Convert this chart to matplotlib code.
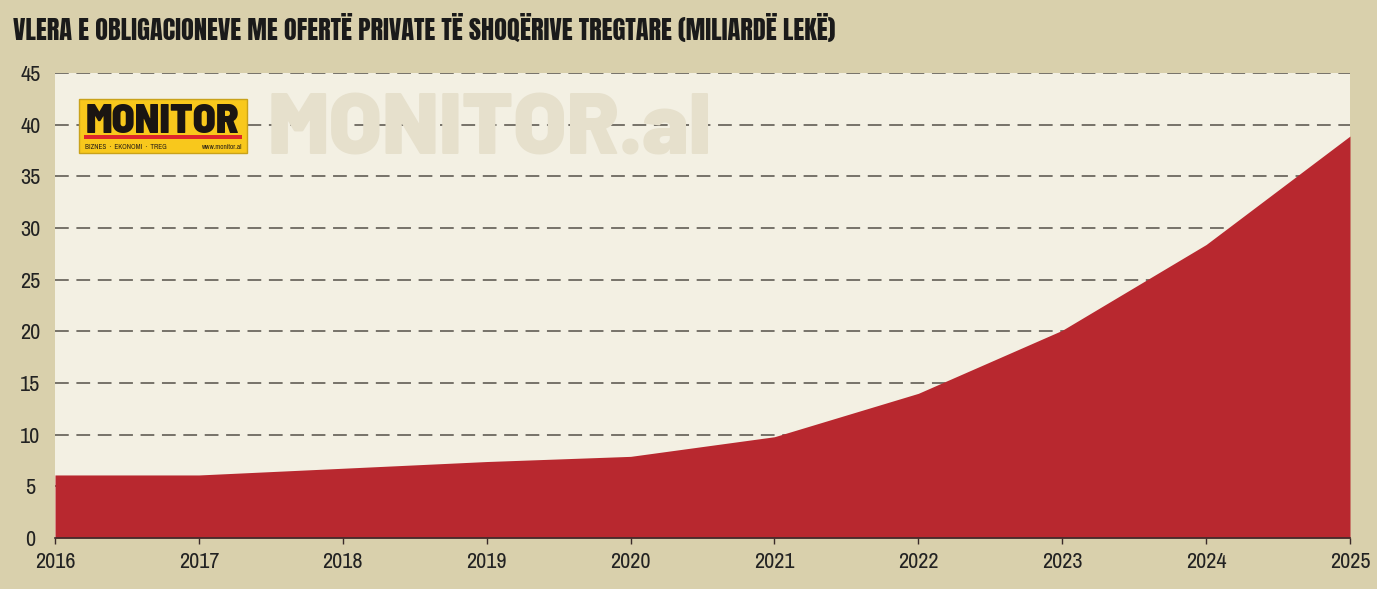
import matplotlib
matplotlib.use("Agg")
import matplotlib.pyplot as plt
from matplotlib.patches import Rectangle

years = [2016, 2017, 2018, 2019, 2020, 2021, 2022, 2023, 2024, 2025]
values = [6.1, 6.1, 6.75, 7.4, 7.9, 9.8, 14.0, 20.1, 28.4, 38.9]
yticks = [0, 5, 10, 15, 20, 25, 30, 35, 40, 45]
title = "VLERA E OBLIGACIONEVE ME OFERTË PRIVATE TË SHOQËRIVE TREGTARE (MILIARDË LEKË)"

W, H = 1377, 589
BG = "#d9d0ac"
PANEL = "#f3f0e3"
RED = "#b8282f"
NARROW = ["Archivo Narrow", "DejaVu Sans"]
HEAVY = ["Anton", "DejaVu Sans"]
WIDEBLACK = ["Barlow", "DejaVu Sans"]
SEMIC = ["Barlow Semi Condensed", "DejaVu Sans"]

fig = plt.figure(figsize=(W / 100, H / 100), dpi=100, facecolor=BG)

def fx(px):
    return px / W

def fy(py):
    return 1 - py / H

ax = fig.add_axes([fx(55), fy(538), fx(1350) - fx(55), fy(73) - fy(538)])
ax.set_facecolor(PANEL)
ax.fill_between(years, values, 0, color=RED, lw=0, zorder=2)
ax.set_xlim(years[0], years[-1])
ax.set_ylim(0, 45)
ax.set_yticks(yticks)
ax.set_xticks(years)
for y in yticks[1:]:
    ax.axhline(y, color="#555048", lw=1.1, dashes=(9, 5), zorder=1)
for s in ["top", "right", "left"]:
    ax.spines[s].set_visible(False)
ax.spines["bottom"].set_color("#3a2a2a")
ax.spines["bottom"].set_linewidth(1.2)
ax.spines["bottom"].set_zorder(3)
ax.tick_params(axis="y", length=0, pad=0, labelsize=16, labelcolor="#222222")
ax.tick_params(axis="x", length=4, width=1, color="#3a2a2a", pad=6, labelsize=16, labelcolor="#222222")
for lab in ax.get_xticklabels() + ax.get_yticklabels():
    lab.set_family(NARROW)
for lab in ax.get_yticklabels():
    lab.set_horizontalalignment("center")
    lab.set_x(-0.019)

# title
fig.text(fx(13), fy(40), title, family=HEAVY, fontsize=19,
         color="#1a1a1a", ha="left", va="baseline")

# watermark
fig.text(fx(268), fy(155), "MONITOR.al", family=WIDEBLACK, fontweight=900, fontsize=62,
         color="#e6e0cc", ha="left", va="baseline", zorder=1)

# logo
fig.add_artist(Rectangle((fx(79), fy(153)), fx(247) - fx(79), fy(99) - fy(153),
                         transform=fig.transFigure, facecolor="#f8c81c",
                         edgecolor="#c9a21a", lw=1, zorder=5))
fig.text(fx(163), fy(133), "MONITOR", family=SEMIC, fontweight=900, fontsize=30,
         color="#1a1512", ha="center", va="baseline", zorder=6)
fig.add_artist(Rectangle((fx(84), fy(139)), fx(242) - fx(84), fy(135) - fy(139),
                         transform=fig.transFigure, facecolor="#e0262b", lw=0, zorder=6))
fig.text(fx(85), fy(149), "BIZNES  ·  EKONOMI  ·  TREG", family=NARROW, fontsize=5.2,
         color="#2a2015", ha="left", va="baseline", zorder=6)
fig.text(fx(242), fy(149), "www.monitor.al", family=NARROW, fontweight="bold", fontsize=5.2,
         color="#2a2015", ha="right", va="baseline", zorder=6)

fig.savefig("out.png", dpi=100, facecolor=BG)
